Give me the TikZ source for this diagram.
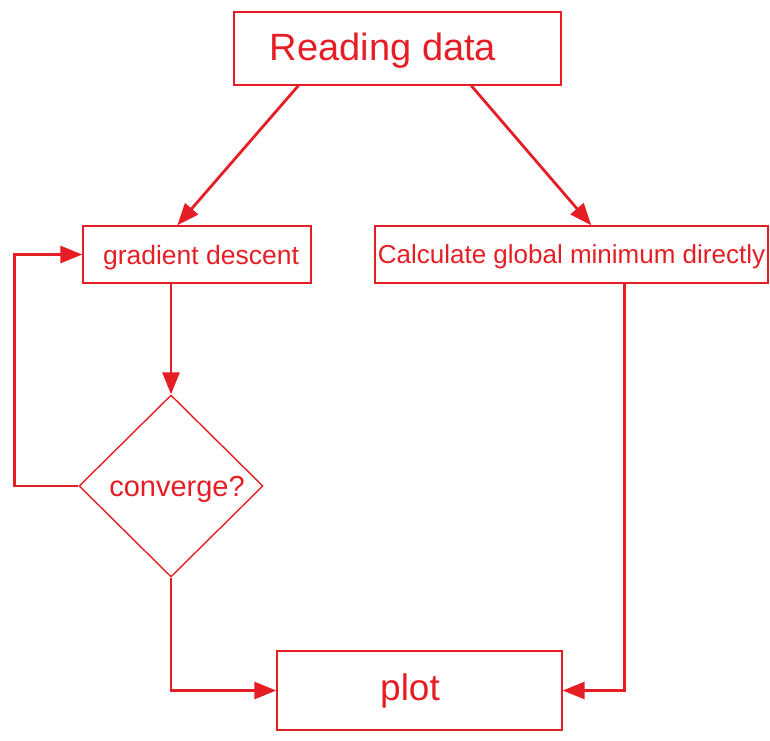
\documentclass[tikz,border=0pt]{standalone}
\usepackage{fontspec}
\setmainfont{Liberation Sans}
\usetikzlibrary{arrows.meta,shapes.geometric}
\definecolor{fred}{RGB}{228,30,36}
\tikzset{
  box/.style={draw=fred,line width=1.4pt,inner sep=0pt},
  lbl/.style={text=fred,inner sep=0pt,anchor=base},
  arr/.style={draw=fred,line width=2.8pt,-{Triangle[length=22pt,width=17pt]}},
}
\begin{document}
\begin{tikzpicture}[x=1pt,y=-1pt]
\useasboundingbox (0,0) rectangle (770,740);
\node[box,minimum width=327pt,minimum height=73pt] (rd) at (397.5,48.5) {};
\node[lbl,font=\fontsize{38}{44}\selectfont] (rdt) at (383,60) {Reading data};
\node[box,minimum width=228pt,minimum height=57pt] (gd) at (197,254.5) {};
\node[lbl,font=\fontsize{26.5}{31}\selectfont] (gdt) at (201,264) {gradient descent};
\node[box,minimum width=393pt,minimum height=57pt] (calc) at (571.5,254.5) {};
\node[lbl,font=\fontsize{26}{31}\selectfont] (calct) at (571.5,263) {Calculate global minimum directly};
\node[box,diamond,minimum width=184pt,minimum height=182pt] (dia) at (171,486) {};
\node[lbl,font=\fontsize{29}{34}\selectfont] (diat) at (177,496) {converge?};
\node[box,minimum width=285pt,minimum height=79pt] (plot) at (419.5,690.5) {};
\node[lbl,font=\fontsize{37}{43}\selectfont] (plott) at (410,700) {plot};
\draw[arr] ([xshift=65pt]rd.south west) -- ([xshift=95pt]gd.north west);
\draw[arr] ([xshift=238pt]rd.south west) -- ([xshift=217pt]calc.north west);
\draw[arr] (dia.north |- gd.south) -- (dia.north);
\draw[arr] (dia.west) -- ++(-64,0) |- (gd.west);
\draw[arr] (dia.south) |- (plot.west);
\draw[arr] ([xshift=250pt]calc.south west) |- (plot.east);
\end{tikzpicture}
\end{document}
